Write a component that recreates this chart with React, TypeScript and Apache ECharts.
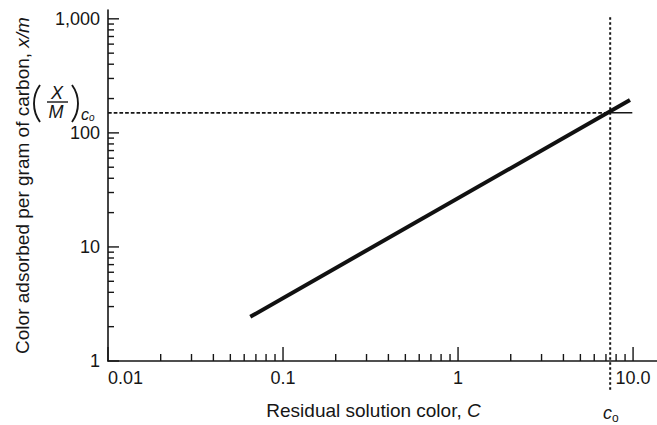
import React, { useEffect, useRef } from "react";
import * as echarts from "echarts";

// Freundlich isotherm line (residual color C, x/m)
const isothermC = [0.065, 9.6];
const isothermXM = [2.44, 194];

// Reference point c0 and (X/M)c0
const c0 = 7.4;
const xmC0 = 150;
const c0SolidEnd = 9.9;
const c0LineBottom = 0.56;
const c0LineTop = 1042;

// Axes
const xMin = 0.01;
const xMax = 13.7;
const yMin = 1;
const yMax = 1195;
const xMajorTicks = [0.01, 0.1, 1, 10];
const yMajorTicks = [1, 10, 100, 1000];
const xDecades = [0.01, 0.1, 1];
const yDecades = [1, 10, 100];
const minorMultipliers = [2, 3, 4, 5, 6, 7, 8, 9];
const xTickLabels: Record<string, string> = { "0.01": "0.01", "0.1": "0.1", "1": "1", "10": "10.0" };
const yTickLabels: Record<string, string> = { "1": "1", "10": "10", "100": "100", "1000": "1,000" };

const FONT = '"Liberation Sans", Arial, Helvetica, sans-serif';
const INK = "#161616";

export default function App() {
  const ref = useRef<HTMLDivElement>(null);

  useEffect(() => {
    if (!ref.current) return;
    const chart = echarts.init(ref.current, undefined, { renderer: "svg" });

    const xMinor: number[] = [];
    xDecades.forEach((d) => minorMultipliers.forEach((m) => xMinor.push(+(d * m).toPrecision(3))));
    const yMinor: number[] = [];
    yDecades.forEach((d) => minorMultipliers.forEach((m) => yMinor.push(+(d * m).toPrecision(3))));

    const xTickData = [
      ...xMajorTicks.map((v) => [v, yMin, 14]),
      ...xMinor.map((v) => [v, yMin, 7]),
    ];
    const yTickData = [
      ...yMajorTicks.map((v) => [xMin, v, 11]),
      ...yMinor.map((v) => [xMin, v, 6]),
    ];

    const fmt = (map: Record<string, string>) => (v: number) => {
      const key = String(+Number(v).toPrecision(6));
      return map[key] ?? "";
    };

    // parenthesis arcs: chord ~37px, bulge ~6px
    const pr = 31.5;
    const pa = Math.asin(18.5 / pr);

    chart.setOption({
      animation: false,
      backgroundColor: "#ffffff",
      grid: { left: 108, right: 0, top: 10, bottom: 57, containLabel: false },
      xAxis: {
        type: "log",
        logBase: 10,
        min: xMin,
        max: xMax,
        name: "Residual solution color, {i|C}",
        nameLocation: "middle",
        nameGap: 40,
        nameTextStyle: {
          fontSize: 19,
          fontFamily: FONT,
          color: INK,
          padding: [0, 18, 0, 0],
          rich: { i: { fontStyle: "italic", fontSize: 19, fontFamily: FONT, color: INK } },
        },
        axisLine: { show: true, lineStyle: { color: INK, width: 1.6 } },
        axisTick: { show: false },
        minorTick: { show: false },
        splitLine: { show: false },
        axisLabel: {
          show: true,
          margin: 8,
          fontSize: 18,
          fontFamily: FONT,
          color: INK,
          alignMinLabel: "left",
          showMaxLabel: false,
          formatter: fmt(xTickLabels),
        },
      },
      yAxis: {
        type: "log",
        logBase: 10,
        min: yMin,
        max: yMax,
        name: "Color adsorbed per gram of carbon, {i|x/m}",
        nameLocation: "middle",
        nameGap: 76,
        nameTextStyle: {
          fontSize: 19,
          fontFamily: FONT,
          color: INK,
          rich: { i: { fontStyle: "italic", fontSize: 19, fontFamily: FONT, color: INK } },
        },
        axisLine: { show: true, lineStyle: { color: INK, width: 1.6 } },
        axisTick: { show: false },
        minorTick: { show: false },
        splitLine: { show: false },
        axisLabel: {
          show: true,
          margin: 8,
          fontSize: 18,
          fontFamily: FONT,
          color: INK,
          showMaxLabel: false,
          formatter: fmt(yTickLabels),
        },
      },
      series: [
        {
          type: "custom",
          name: "xTicks",
          coordinateSystem: "cartesian2d",
          silent: true,
          data: xTickData,
          renderItem: (_p: any, api: any) => {
            const pt = api.coord([api.value(0), api.value(1)]);
            const len = api.value(2);
            return {
              type: "line",
              shape: { x1: pt[0], y1: pt[1], x2: pt[0], y2: pt[1] - len },
              style: { stroke: INK, lineWidth: 1.4 },
            };
          },
        },
        {
          type: "custom",
          name: "yTicks",
          coordinateSystem: "cartesian2d",
          silent: true,
          data: yTickData,
          renderItem: (_p: any, api: any) => {
            const pt = api.coord([api.value(0), api.value(1)]);
            const len = api.value(2);
            return {
              type: "line",
              shape: { x1: pt[0], y1: pt[1], x2: pt[0] + len, y2: pt[1] },
              style: { stroke: INK, lineWidth: 1.4 },
            };
          },
        },
        {
          type: "line",
          name: "isotherm",
          data: isothermC.map((c, i) => [c, isothermXM[i]]),
          symbol: "none",
          lineStyle: { color: "#111", width: 4, cap: "butt" },
          z: 5,
        },
        {
          type: "line",
          name: "xmC0",
          data: [[xMin, xmC0], [c0, xmC0]],
          symbol: "none",
          lineStyle: { color: INK, width: 1.8, type: [3.7, 2] },
        },
        {
          type: "line",
          name: "xmC0Solid",
          data: [[c0, xmC0], [c0SolidEnd, xmC0]],
          symbol: "none",
          lineStyle: { color: INK, width: 1.5 },
        },
        {
          type: "line",
          name: "c0",
          clip: false,
          data: [[c0, c0LineBottom], [c0, c0LineTop]],
          symbol: "none",
          lineStyle: { color: INK, width: 2, type: [2.5, 2.5] },
        },
      ],
      graphic: [
        {
          type: "arc",
          shape: { cx: 34 + pr, cy: 103.5, r: pr, startAngle: Math.PI - pa, endAngle: Math.PI + pa },
          style: { stroke: INK, lineWidth: 1.9, fill: "none" },
        },
        {
          type: "arc",
          shape: { cx: 78 - pr, cy: 103.5, r: pr, startAngle: -pa, endAngle: pa },
          style: { stroke: INK, lineWidth: 1.9, fill: "none" },
        },
        { type: "text", x: 57, y: 93, style: { text: "X", font: `italic 18px ${FONT}`, fill: INK, textAlign: "center", textVerticalAlign: "middle" } },
        { type: "line", shape: { x1: 47, y1: 102, x2: 68, y2: 102 }, style: { stroke: INK, lineWidth: 1.4 } },
        { type: "text", x: 56, y: 112, style: { text: "M", font: `italic 18px ${FONT}`, fill: INK, textAlign: "center", textVerticalAlign: "middle" } },
        {
          type: "text",
          x: 81,
          y: 114,
          style: {
            text: "c{s|o}",
            font: `italic 16px ${FONT}`,
            fill: INK,
            textAlign: "left",
            textVerticalAlign: "middle",
            lineHeight: 16,
            rich: { s: { fontSize: 10, fontStyle: "italic", fontFamily: FONT, fill: INK, verticalAlign: "bottom", lineHeight: 16 } },
          },
        },
        {
          type: "text",
          x: 603,
          y: 413,
          style: {
            text: "c{s|o}",
            font: `italic 18px ${FONT}`,
            fill: INK,
            textAlign: "left",
            textVerticalAlign: "middle",
            rich: { s: { fontSize: 12, fontStyle: "normal", fontFamily: FONT, fill: INK, verticalAlign: "bottom", lineHeight: 22 } },
          },
        },
      ],
    });

    return () => chart.dispose();
  }, []);

  return (
    <div
      ref={ref}
      style={{ position: "fixed", left: 0, top: 0, width: 657, height: 425, background: "#fff" }}
    />
  );
}
